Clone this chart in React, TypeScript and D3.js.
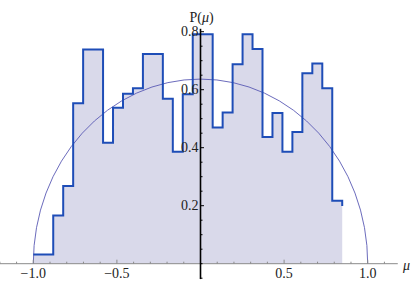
import * as d3 from "d3";

// histogram of eigenvalue density, 31 bins starting at -1.0
const binStart = -1.0;
const binWidth = 0.0596;
const heights = [
  0.032, 0.032, 0.166, 0.268, 0.553, 0.739, 0.739, 0.417, 0.538, 0.586,
  0.605, 0.723, 0.723, 0.569, 0.386, 0.584, 0.791, 0.791, 0.470, 0.521,
  0.688, 0.791, 0.740, 0.437, 0.520, 0.386, 0.454, 0.657, 0.690, 0.605,
  0.217,
];

const xMajor = [-1.0, -0.5, 0.5, 1.0];
const xMajorLabels = ["\u22121.0", "\u22120.5", "0.5", "1.0"];
const yMajor = [0.2, 0.4, 0.6, 0.8];
const yMajorLabels = ["0.2", "0.4", "0.6", "0.8"];

const width = 415;
const height = 284;

export default function App() {
  const x = d3.scaleLinear().domain([-1, 1]).range([33.3, 367.7]);
  const y = d3.scaleLinear().domain([0, 0.8]).range([263.7, 31.7]);

  const edges = heights.map((_, i) => binStart + i * binWidth);
  const lastEdge = binStart + heights.length * binWidth;

  // filled area under histogram
  let fill = `M${x(edges[0])},${y(0)}`;
  heights.forEach((h, i) => {
    fill += `V${y(h)}H${x(i + 1 < heights.length ? edges[i + 1] : lastEdge)}`;
  });
  fill += `V${y(0)}Z`;

  // step outline
  let outline = `M${x(edges[0])},${y(heights[0])}`;
  heights.forEach((h, i) => {
    if (i > 0) outline += `V${y(h)}`;
    outline += `H${x(i + 1 < heights.length ? edges[i + 1] : lastEdge)}`;
  });
  outline += `V${y(heights[heights.length - 1] - 0.018)}`;

  // Wigner semicircle (2/pi) sqrt(1 - mu^2) as an elliptical arc
  const rx = x(1) - x(0);
  const ry = y(0) - y(2 / Math.PI);
  const semi = `M${x(-1)},${y(0)}A${rx},${ry} 0 0 1 ${x(1)},${y(0)}`;

  const xMinor = d3.range(-12, 12).map((d) => d / 10).filter((d) => !xMajor.some((m) => Math.abs(m - d) < 1e-6) && Math.abs(d) > 1e-6);
  const yMinor = d3.range(-1, 17).map((d) => d * 0.05).filter((d) => !yMajor.some((m) => Math.abs(m - d) < 1e-6));

  const font = "'Liberation Serif', 'Times New Roman', serif";

  return (
    <svg width={width} height={height} style={{ position: "absolute", left: 0, top: 0 }}>
      <rect width={width} height={height} fill="#fff" />
      <path d={fill} fill="#d9d9ea" />
      <path d={semi} fill="none" stroke="#5a5ab4" strokeWidth={0.9} />

      {/* x axis */}
      <line x1={x(-1.2)} x2={x(1.18)} y1={y(0)} y2={y(0)} stroke="#8a8a8a" strokeWidth={1} />
      {xMinor.map((d) => (
        <line key={"xm" + d} x1={x(d)} x2={x(d)} y1={y(0)} y2={y(0) - 2} stroke="#8a8a8a" />
      ))}
      {xMajor.map((d) => (
        <line key={"xM" + d} x1={x(d)} x2={x(d)} y1={y(0)} y2={y(0) - 4} stroke="#8a8a8a" />
      ))}

      <path d={outline} fill="none" stroke="#1e4db7" strokeWidth={2} strokeLinejoin="miter" />

      {/* y axis */}
      <line x1={x(0)} x2={x(0)} y1={y(-0.053)} y2={y(0.81)} stroke="#000" strokeWidth={1.6} />
      {yMinor.map((d) => (
        <line key={"ym" + d} x1={x(0)} x2={x(0) + 2} y1={y(d)} y2={y(d)} stroke="#000" />
      ))}
      {yMajor.map((d) => (
        <line key={"yM" + d} x1={x(0)} x2={x(0) + 3.5} y1={y(d)} y2={y(d)} stroke="#000" />
      ))}

      <g fontFamily={font} fontSize={14} fill="#222">
        {xMajor.map((d, i) => (
          <text key={"xl" + d} x={x(d)} y={278} textAnchor="middle">
            {xMajorLabels[i]}
          </text>
        ))}
        {yMajor.map((d, i) => (
          <text key={"yl" + d} x={x(0) - 2} y={y(d) + 4.5} textAnchor="end">
            {yMajorLabels[i]}
          </text>
        ))}
        <text x={x(0) + 1} y={22} textAnchor="middle">
          P(<tspan fontStyle="italic">{"\u03bc"}</tspan>)
        </text>
        <text x={403} y={270} fontStyle="italic">
          {"\u03bc"}
        </text>
      </g>
    </svg>
  );
}
